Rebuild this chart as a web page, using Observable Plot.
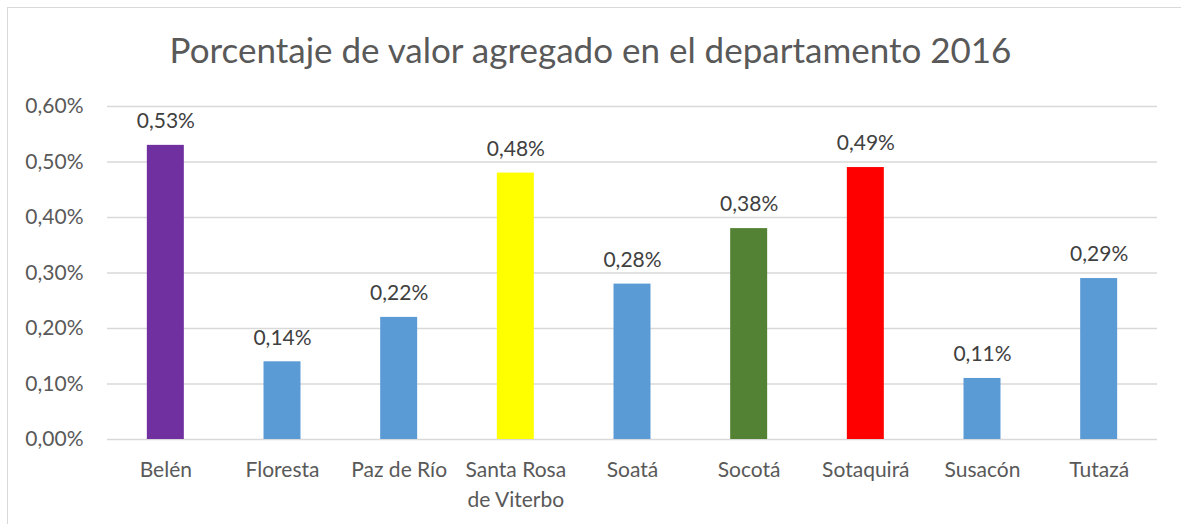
<!DOCTYPE html>
<html>
<head>
<meta charset="utf-8">
<script src="https://cdn.jsdelivr.net/npm/d3@7"></script>
<script src="https://cdn.jsdelivr.net/npm/@observablehq/plot@0.6"></script>
<style>
  html, body { margin: 0; padding: 0; background: #fff; }
  #wrap { position: relative; width: 1181px; height: 524px; overflow: hidden; font-family: Lato, "Open Sans", sans-serif; }
  #frame { position: absolute; left: 7px; top: 7px; width: 1200px; height: 600px; border: 1px solid #d9d9d9; box-sizing: border-box; }
  #title { position: absolute; left: 0; top: 0; width: 1181px; height: 85px; line-height: 98px; text-align: center; font-size: 35px; color: #595959; }
  #chart { position: absolute; left: 0; top: 85px; }
</style>
</head>
<body>
<div id="wrap">
  <div id="frame"></div>
  <div id="title">Porcentaje de valor agregado en el departamento 2016</div>
  <div id="chart"></div>
</div>
<script>
const categories = ["Belén", "Floresta", "Paz de Río", "Santa Rosa\nde Viterbo", "Soatá", "Socotá", "Sotaquirá", "Susacón", "Tutazá"];
const values = [0.53, 0.14, 0.22, 0.48, 0.28, 0.38, 0.49, 0.11, 0.29];
const colors = ["#7030A0", "#5B9BD5", "#5B9BD5", "#FFFF00", "#5B9BD5", "#548235", "#FF0000", "#5B9BD5", "#5B9BD5"];
const yTicks = [0, 0.1, 0.2, 0.3, 0.4, 0.5, 0.6];

const data = categories.map((c, i) => ({category: c, value: values[i], color: colors[i]}));
const loc = d3.formatLocale({decimal: ",", thousands: ".", grouping: [3], currency: ["", ""]});
const fmt = v => loc.format(".2f")(v) + "%";

const chart = Plot.plot({
  width: 1181,
  height: 439,
  marginTop: 21,
  marginBottom: 85,
  marginLeft: 107,
  marginRight: 24,
  style: {fontFamily: "Lato, 'Open Sans', sans-serif", fontSize: "21px", color: "#595959", background: "transparent"},
  x: {domain: categories, paddingInner: 0.683, paddingOuter: 0.3415, round: false, label: null},
  y: {domain: [0, 0.6], label: null},
  marks: [
    Plot.gridY(yTicks, {stroke: "#d9d9d9", strokeOpacity: 1, strokeWidth: 1.4}),
    Plot.barY(data, {x: "category", y: "value", fill: "color"}),
    Plot.text(data, {x: "category", y: "value", text: d => fmt(d.value), dy: -24, fill: "#404040", fontSize: 21}),
    Plot.axisY(yTicks, {tickSize: 0, tickPadding: 24, tickFormat: fmt, fontSize: 21, fill: "#595959"}),
    Plot.axisX({tickSize: 0, tickPadding: 17, fontSize: 21, fill: "#595959", lineHeight: 1.4})
  ]
});
document.getElementById("chart").appendChild(chart);
</script>
</body>
</html>
